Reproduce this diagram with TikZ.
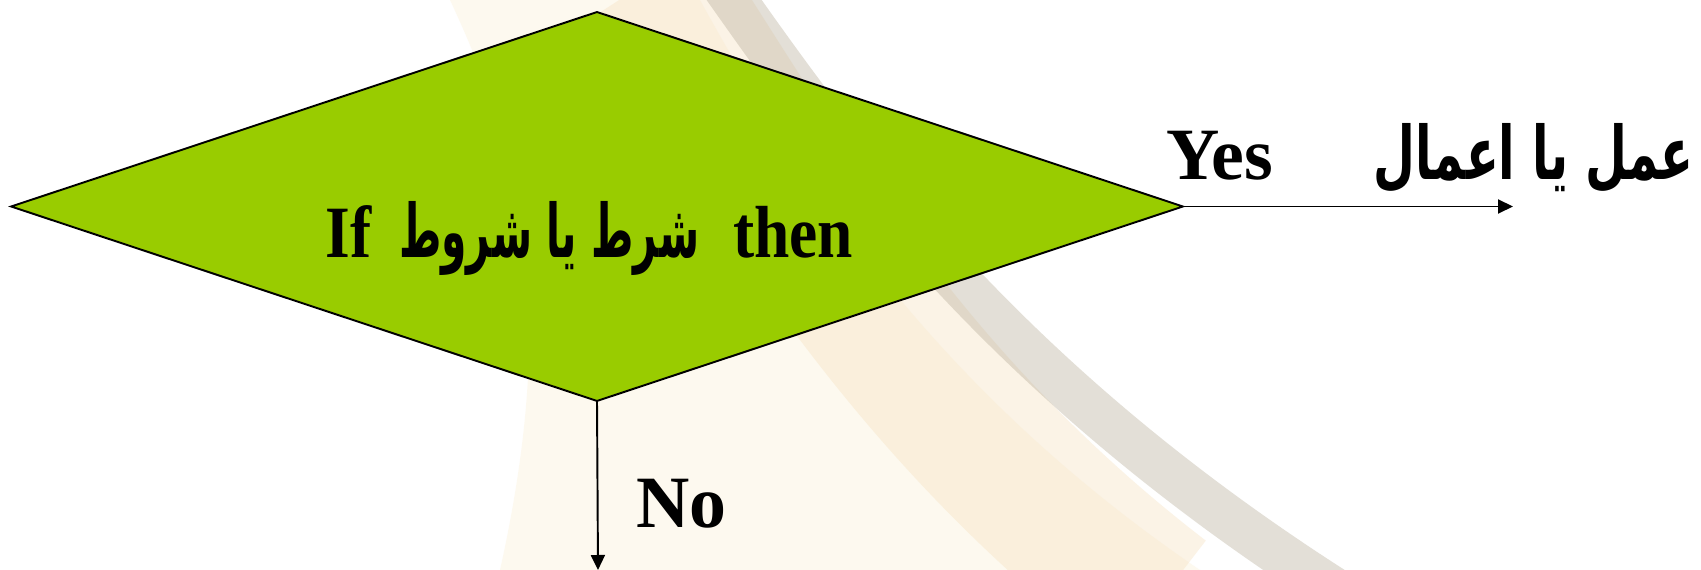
\documentclass[tikz,border=0pt]{standalone}
\usepackage{fontspec}
\setmainfont{Liberation Serif}
\newfontfamily\arabicfont[Script=Arabic]{DejaVu Sans}
\TeXXeTstate=1
\usetikzlibrary{shapes.geometric,arrows.meta}
\definecolor{dgreen}{RGB}{153,204,0}
\definecolor{beigeband}{RGB}{245,222,185}
\definecolor{grayband}{RGB}{185,175,155}
\definecolor{creamtint}{RGB}{252,244,225}
\begin{document}
\begin{tikzpicture}[x=0.02cm,y=-0.02cm,
  lbl/.style={font=\fontsize{42}{48}\selectfont\bfseries, inner sep=0, anchor=base west},
  conn/.style={line width=1.1pt, -{Triangle[length=0.3cm,width=0.28cm]}}]
\useasboundingbox (0,0) rectangle (1701,570);
\fill[white] (0,0) rectangle (1701,570);
% faint background swoosh
\fill[creamtint, opacity=0.5] (450,0) -- (700,0) .. controls (810,200) and (950,400) .. (1200,570) -- (500,570) .. controls (560,300) and (520,150) .. cycle;
\draw[beigeband, opacity=0.35, line width=3cm] (650,-20) .. controls (780,180) and (900,400) .. (1160,600);
\draw[grayband, opacity=0.4, line width=0.9cm] (720,-20) .. controls (840,150) and (1000,380) .. (1350,600);
% diagram
\node[diamond, draw, line width=1.1pt, fill=dgreen, minimum width=23.44cm, minimum height=7.78cm, inner sep=0, outer sep=0] (dia) at (597,206.5) {};
\node[lbl] (cond) at (325,258) {\scalebox{0.86}[1]{If}\hspace{0.56cm}\resizebox{6cm}{\height}{\arabicfont\beginR شرط يا شروط\endR}\hspace{0.68cm}\scalebox{0.86}[1]{then}};
\coordinate (yend) at (1513,206.5);
\coordinate (nend) at (598,570);
\draw[conn] (dia.east) -- (yend);
\draw[conn] (dia.south) -- (nend);
\node[lbl] (yes) at (1166,180) {Yes};
\node[lbl, anchor=base east] (act) at (1694,180) {\resizebox{6.4cm}{\height}{\arabicfont\beginR عمل يا اعمال\endR}};
\node[lbl] (no) at (636,528) {No};
\end{tikzpicture}
\end{document}
